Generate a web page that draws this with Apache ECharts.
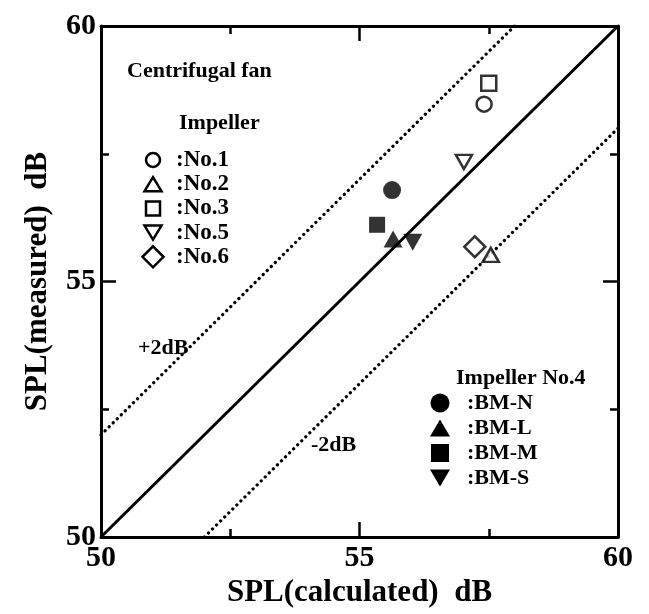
<!DOCTYPE html>
<html>
<head>
<meta charset="utf-8">
<script src="https://cdn.jsdelivr.net/npm/echarts@6/dist/echarts.min.js"></script>
<style>
html,body{margin:0;padding:0;background:#fff;}
#chart{width:649px;height:614px;}
</style>
</head>
<body>
<div id="chart"></div>
<script>
// ---- data ----
const seriesNames = ['No.1', 'No.2', 'No.3', 'No.5', 'No.6', 'BM-N', 'BM-L', 'BM-M', 'BM-S'];
const calcSPL     = [57.41, 57.54, 57.50, 57.02, 57.23, 55.63, 55.65, 55.34, 56.03];
const measSPL     = [58.47, 55.52, 58.88, 57.34, 55.68, 56.79, 55.83, 56.11, 55.77];
const perfectX = [50, 60];
const perfectY = [50, 60];
const plus2X = [50, 58];
const plus2Y = [52, 60];
const minus2X = [52, 60];
const minus2Y = [50, 58];
const axisMin = 50, axisMax = 60, axisStep = 5;
const xTitle = 'SPL(calculated)  dB';
const yTitle = 'SPL(measured)  dB';

// ---- styles ----
const FONT = 'Liberation Serif';
const symbolDefs = {
  'No.1': {symbol: 'circle', size: 15, open: true},
  'No.2': {symbol: 'triangle', size: [16, 14], open: true},
  'No.3': {symbol: 'rect', size: 15, open: true},
  'No.5': {symbol: 'triangle', size: [16, 14], open: true, rotate: 180},
  'No.6': {symbol: 'diamond', size: [21, 21], open: true},
  'BM-N': {symbol: 'circle', size: 18, open: false},
  'BM-L': {symbol: 'triangle', size: [19, 17], open: false},
  'BM-M': {symbol: 'rect', size: 16, open: false},
  'BM-S': {symbol: 'triangle', size: [19, 17], open: false, rotate: 180}
};

const chart = echarts.init(document.getElementById('chart'), null, {renderer: 'canvas'});

const series = [];
function pairs(xs, ys) { return xs.map((x, i) => [x, ys[i]]); }
series.push({type: 'line', data: pairs(perfectX, perfectY), symbol: 'none', silent: true,
  lineStyle: {color: '#000', width: 3}, z: 2});
series.push({type: 'line', data: pairs(plus2X, plus2Y), symbol: 'none', silent: true,
  lineStyle: {color: '#000', width: 3.2, type: [0.1, 5.6], cap: 'round'}, z: 2});
series.push({type: 'line', data: pairs(minus2X, minus2Y), symbol: 'none', silent: true,
  lineStyle: {color: '#000', width: 3.2, type: [0.1, 5.6], cap: 'round'}, z: 2});

seriesNames.forEach((name, i) => {
  const d = symbolDefs[name];
  series.push({
    type: 'scatter', name: name,
    data: [[calcSPL[i], measSPL[i]]],
    symbol: d.symbol, symbolSize: d.size, symbolRotate: d.rotate || 0,
    itemStyle: d.open ? {color: '#fff', borderColor: '#000', borderWidth: 2.5}
                      : {color: '#000', borderColor: '#000', borderWidth: 0},
    z: 5
  });
});

// ---- legend graphics ----
function legendSymbol(kind, cx, cy, w, h, open) {
  const style = open ? {fill: '#fff', stroke: '#000', lineWidth: 2.5} : {fill: '#000', stroke: '#000', lineWidth: 0};
  if (kind === 'circle') return {type: 'circle', shape: {cx: cx, cy: cy, r: w / 2}, style: style};
  if (kind === 'rect') return {type: 'rect', shape: {x: cx - w / 2, y: cy - h / 2, width: w, height: h}, style: style};
  if (kind === 'up') return {type: 'polygon', shape: {points: [[cx, cy - h / 2], [cx + w / 2, cy + h / 2], [cx - w / 2, cy + h / 2]]}, style: style};
  if (kind === 'down') return {type: 'polygon', shape: {points: [[cx - w / 2, cy - h / 2], [cx + w / 2, cy - h / 2], [cx, cy + h / 2]]}, style: style};
  if (kind === 'diamond') return {type: 'polygon', shape: {points: [[cx, cy - h / 2], [cx + w / 2, cy], [cx, cy + h / 2], [cx - w / 2, cy]]}, style: style};
}
function txt(text, x, y, size, align) {
  return {type: 'text', x: x, y: y, style: {text: text, fill: '#000', font: 'bold ' + size + 'px "' + FONT + '"',
    textAlign: align || 'left', textVerticalAlign: 'middle'}};
}
const legend1 = [
  ['circle', 'No.1', 14, 14], ['up', 'No.2', 17, 14], ['rect', 'No.3', 14, 14],
  ['down', 'No.5', 17, 14], ['diamond', 'No.6', 21, 21]
];
const legend2 = [
  ['circle', 'BM-N', 19, 19], ['up', 'BM-L', 20, 17], ['rect', 'BM-M', 18, 18], ['down', 'BM-S', 20, 17]
];
const graphics = [];
graphics.push(txt('Centrifugal fan', 127, 71, 22));
graphics.push(txt('Impeller', 179, 123, 22));
legend1.forEach((r, i) => {
  const cy = 160 + i * 24.2;
  graphics.push(legendSymbol(r[0], 153, cy, r[2], r[3], true));
  graphics.push(txt(':' + r[1], 176, cy, 23));
});
graphics.push(txt('Impeller No.4', 456, 378, 22));
legend2.forEach((r, i) => {
  const cy = 403 + i * 25;
  graphics.push(legendSymbol(r[0], 440, cy, r[2], r[3], false));
  graphics.push(txt(':' + r[1], 467, cy, 22));
});
graphics.push(txt('+2dB', 138, 348, 22));
graphics.push(txt('-2dB', 311, 445, 22));

const tickCommon = {show: true, inside: true, length: 15, lineStyle: {color: '#000', width: 2.5}};
const minorCommon = {show: true, splitNumber: 2, length: 8, lineStyle: {color: '#000', width: 2.5}};
const lineCommon = {show: true, onZero: false, lineStyle: {color: '#000', width: 3}};

const option = {
  backgroundColor: '#fff',
  animation: false,
  grid: {left: 101, right: 31, top: 26, bottom: 77, containLabel: false},
  xAxis: [{
    type: 'value', min: axisMin, max: axisMax, interval: axisStep, position: 'bottom',
    axisLine: lineCommon, axisTick: tickCommon, minorTick: minorCommon, splitLine: {show: false},
    axisLabel: {color: '#000', fontFamily: FONT, fontWeight: 'bold', fontSize: 30, margin: 6},
    name: xTitle, nameLocation: 'middle', nameGap: 40,
    nameTextStyle: {color: '#000', fontFamily: FONT, fontWeight: 'bold', fontSize: 31}
  }, {
    type: 'value', min: axisMin, max: axisMax, interval: axisStep, position: 'top',
    axisLine: lineCommon, axisTick: tickCommon, minorTick: minorCommon, splitLine: {show: false},
    axisLabel: {show: false}
  }],
  yAxis: [{
    type: 'value', min: axisMin, max: axisMax, interval: axisStep, position: 'left',
    axisLine: lineCommon, axisTick: tickCommon, minorTick: minorCommon, splitLine: {show: false},
    axisLabel: {color: '#000', fontFamily: FONT, fontWeight: 'bold', fontSize: 30, margin: 5},
    name: yTitle, nameLocation: 'middle', nameGap: 48,
    nameTextStyle: {color: '#000', fontFamily: FONT, fontWeight: 'bold', fontSize: 31}
  }, {
    type: 'value', min: axisMin, max: axisMax, interval: axisStep, position: 'right',
    axisLine: lineCommon, axisTick: tickCommon, minorTick: minorCommon, splitLine: {show: false},
    axisLabel: {show: false}
  }],
  series: series,
  graphic: graphics
};
chart.setOption(option);
</script>
</body>
</html>
